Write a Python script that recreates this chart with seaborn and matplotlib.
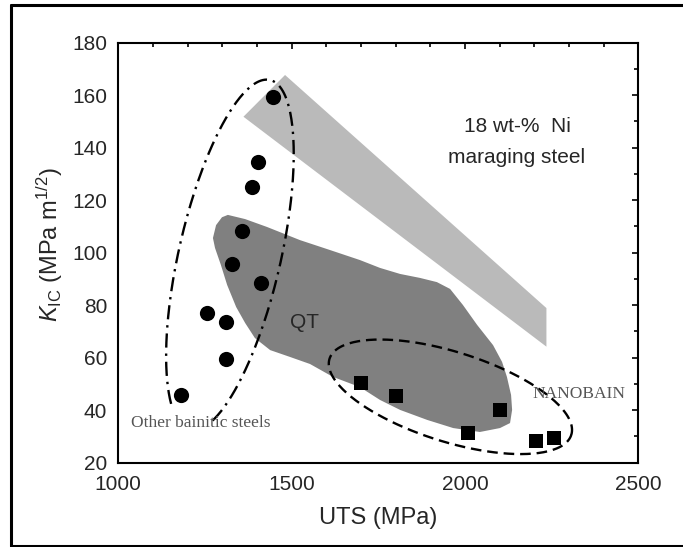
import numpy as np
import matplotlib
matplotlib.use("Agg")
import matplotlib.pyplot as plt
from matplotlib.ticker import MultipleLocator
from matplotlib.lines import Line2D
import seaborn as sns

# ---------------- data ----------------
# Other bainitic steels (circles)
circle_uts = [1447, 1404, 1385, 1356, 1327, 1411, 1257, 1311, 1310, 1181]
circle_kic = [159.4, 134.7, 124.9, 108.4, 95.7, 88.6, 76.9, 73.7, 59.5, 45.7]

# NANOBAIN (squares)
square_uts = [1700, 1800, 2010, 2101, 2204, 2258]
square_kic = [50.4, 45.5, 31.2, 40.1, 28.4, 29.3]

# 18 wt-% Ni maraging steel band (light gray)
maraging_uts = [1361, 1481, 2235, 2235]
maraging_kic = [151.8, 167.7, 78.9, 64.2]

# QT region outline (dark gray)
qt_uts = [1316, 1366, 1429, 1524, 1611, 1697, 1755, 1813, 1870, 1919, 1957,
          1994, 2035, 2081, 2107, 2121, 2133, 2136, 2130, 2101, 2043, 1966,
          1891, 1813, 1755, 1697, 1619, 1553, 1495, 1438, 1394, 1366, 1340,
          1314, 1296, 1279, 1273, 1282, 1299]
qt_kic = [114.4, 112.8, 109.8, 104.8, 101.0, 97.2, 94.2, 91.9, 90.4, 88.8, 86.2,
          80.1, 72.5, 64.8, 58.4, 52.7, 45.8, 40.1, 35.1, 33.2, 31.7, 33.2,
          36.3, 40.1, 43.9, 48.8, 52.7, 57.6, 60.3, 62.9, 67.5, 73.2, 79.3,
          87.7, 95.3, 101.8, 105.6, 110.5, 113.5]

# Enclosing curves: centre, half-axis vectors (data units), angular range (deg)
bainitic_center = (1322, 99.1)
bainitic_axis_a = (115.4, 66.7)
bainitic_axis_b = (143.4, -4.3)
bainitic_range = (-151.7, 159.5)

nanobain_center = (1958, 45.1)
nanobain_axis_a = (348.7, -14.5)
nanobain_axis_b = (38.9, 16.3)
nanobain_range = (0, 360)

x_ticks = [1000, 1500, 2000, 2500]
y_ticks = [20, 40, 60, 80, 100, 120, 140, 160, 180]

# ---------------- figure ----------------
sns.set_theme(style="white")
plt.rcParams['font.family'] = ['Liberation Sans', 'DejaVu Sans']
plt.rcParams['mathtext.fontset'] = 'custom'
plt.rcParams['mathtext.rm'] = 'Liberation Sans'
plt.rcParams['mathtext.it'] = 'Liberation Sans:italic'

fig = plt.figure(figsize=(6.83, 5.47), dpi=100)
W, H = 683, 547
ax = fig.add_axes([118.3 / W, 1 - 462.7 / H, 520 / W, 420 / H])

# outer frame (open on the right)
for xs, ys in [([11 / W, 11 / W], [1 - 5 / H, 1 - 546 / H]),
               ([11 / W, 1.0], [1 - 5 / H, 1 - 5 / H]),
               ([11 / W, 1.0], [1 - 546 / H, 1 - 546 / H])]:
    fig.add_artist(Line2D(xs, ys, transform=fig.transFigure, color='black', lw=2.2))

# filled regions
ax.fill(maraging_uts, maraging_kic, color='#bababa', lw=0, zorder=1)
ax.fill(qt_uts, qt_kic, color='#808080', lw=0, zorder=2)


def curve(center, va, vb, rng):
    t = np.radians(np.linspace(rng[0], rng[1], 300))
    x = center[0] + np.cos(t) * va[0] + np.sin(t) * vb[0]
    y = center[1] + np.cos(t) * va[1] + np.sin(t) * vb[1]
    return x, y


bx, by = curve(bainitic_center, bainitic_axis_a, bainitic_axis_b, bainitic_range)
ax.plot(bx, by, color='black', lw=1.7, linestyle=(0, (6, 2.5, 1, 2.5)), zorder=3)
nx, ny = curve(nanobain_center, nanobain_axis_a, nanobain_axis_b, nanobain_range)
ax.plot(nx, ny, color='black', lw=1.7, linestyle=(0, (4.5, 2.5)), zorder=3)

sns.scatterplot(x=circle_uts, y=circle_kic, marker='o', s=120, color='black',
                edgecolor='black', linewidth=0, ax=ax, zorder=4)
sns.scatterplot(x=square_uts, y=square_kic, marker='s', s=105, color='black',
                edgecolor='black', linewidth=0, ax=ax, zorder=4)

# texts
ax.text(2150, 147.9, '18 wt-%  Ni', ha='center', va='center', fontsize=15)
ax.text(2150, 136.4, 'maraging steel', ha='center', va='center', fontsize=15)
ax.text(1537, 73.4, 'QT', ha='center', va='center', fontsize=15)
ax.text(1237, 35.0, 'Other bainitic steels', ha='center', va='center',
        fontsize=12.5, color='#555555', family=['Liberation Serif', 'DejaVu Serif'])
ax.text(2329, 46.3, 'NANOBAIN', ha='center', va='center',
        fontsize=12.5, color='#555555', family=['Liberation Serif', 'DejaVu Serif'])

# axes
ax.set_xlim(1000, 2500)
ax.set_ylim(20, 180)
ax.set_xticks(x_ticks)
ax.set_yticks(y_ticks)
ax.xaxis.set_minor_locator(MultipleLocator(100))
ax.yaxis.set_minor_locator(MultipleLocator(10))
ax.tick_params(which='both', direction='in', top=True, right=True,
               color='black', width=1.2)
ax.tick_params(which='major', length=4.5, labelsize=15)
ax.tick_params(which='minor', length=3)
ax.tick_params(axis='x', pad=9)
ax.tick_params(axis='y', pad=8)
for sp in ax.spines.values():
    sp.set_color('black')
    sp.set_linewidth(1.5)

ax.set_xlabel('UTS (MPa)', fontsize=17)
ax.set_ylabel(r'$K_{\mathrm{IC}}$ (MPa m$^{1/2}$)', fontsize=17)
ax.xaxis.set_label_coords(0.5, -0.105)
ax.yaxis.set_label_coords(-0.102, 0.52)

fig.savefig('out.png', dpi=100)
